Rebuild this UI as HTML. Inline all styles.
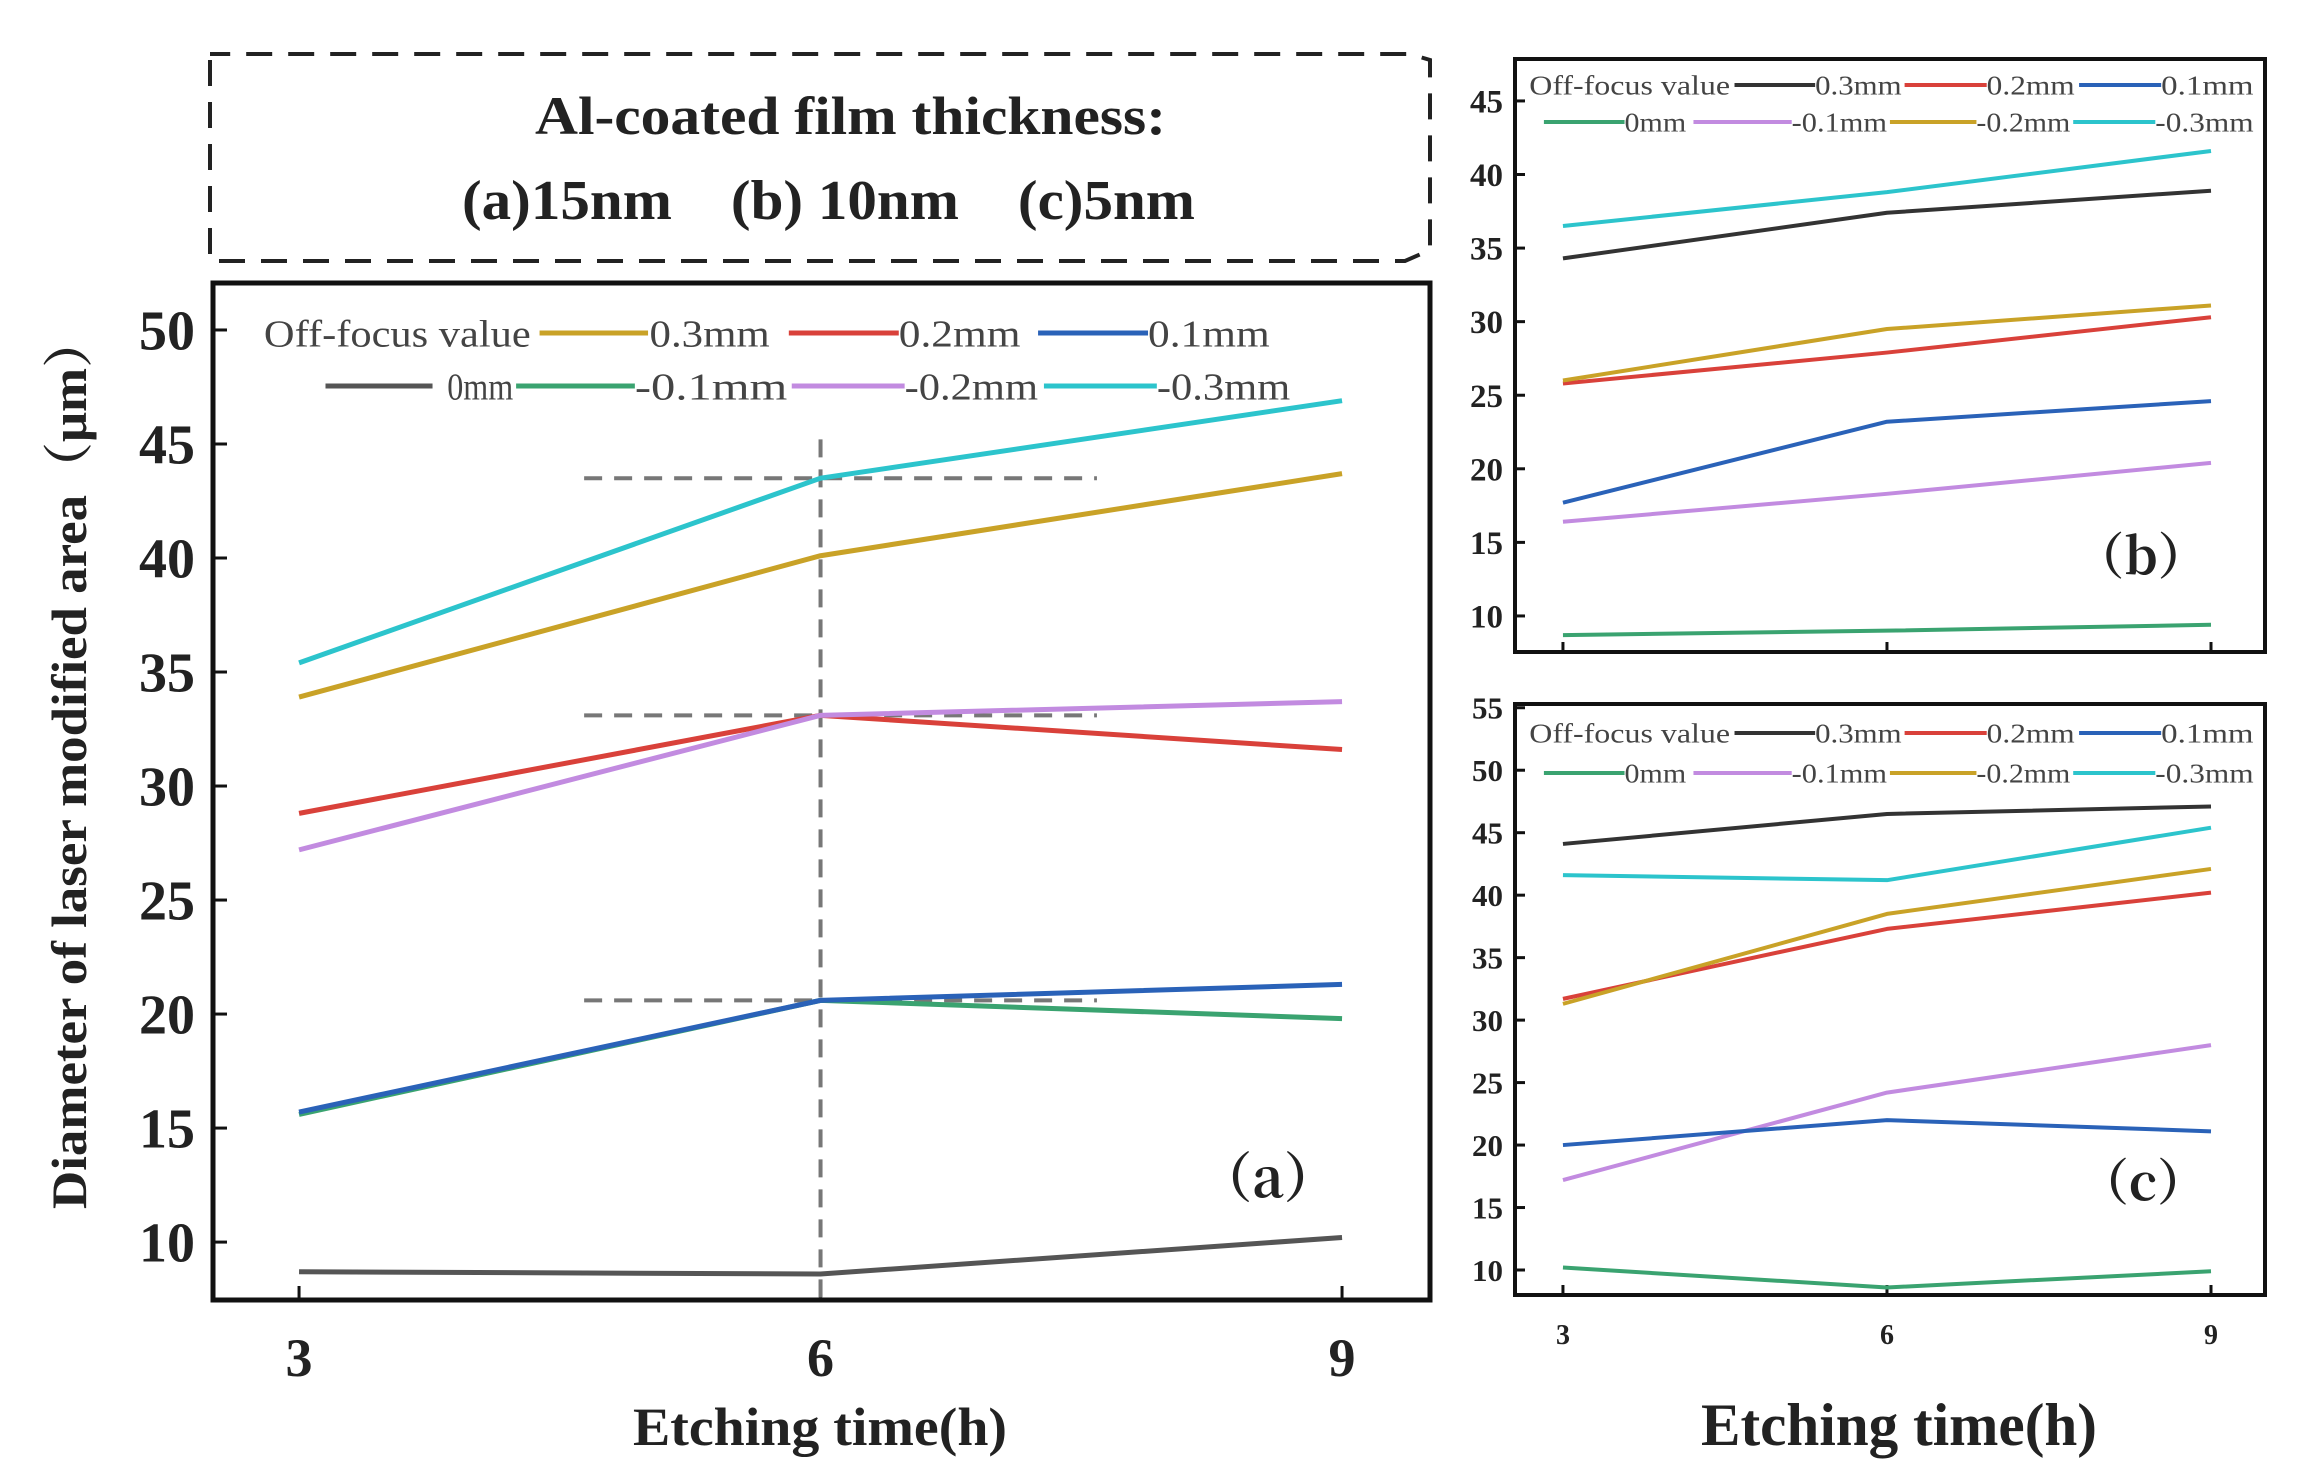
<!DOCTYPE html>
<html><head><meta charset="utf-8"><style>
html,body{margin:0;padding:0;background:#fff;}
svg{display:block;font-family:"Liberation Serif",serif;}
</style></head><body>
<svg id="fig" width="2299" height="1475" viewBox="0 0 2299 1475" xmlns="http://www.w3.org/2000/svg">
<rect x="0" y="0" width="2299" height="1475" fill="#fff"/>
<g>
<path d="M210,60 V261 H1405 L1430,250 V60 L1410,54 H210" fill="none" stroke="#222" stroke-width="4" stroke-dasharray="26,16"/>
<text x="535" y="134" textLength="631" lengthAdjust="spacingAndGlyphs" font-size="54" font-weight="bold" fill="#222">Al-coated film thickness:</text>
<text x="462" y="219" textLength="733" lengthAdjust="spacingAndGlyphs" font-size="56" font-weight="bold" fill="#222" xml:space="preserve">(a)15nm    (b) 10nm    (c)5nm</text>
</g>
<g id="gA"></g>
<g id="gB"></g>
<g id="gC"></g>
</svg>
<script>
const xCats = [3, 6, 9];
const seriesNames = ['0.3mm','0.2mm','0.1mm','0mm','-0.1mm','-0.2mm','-0.3mm'];
// Panel (a)
const aP03 = [33.9, 40.1, 43.7];
const aP02 = [28.8, 33.1, 31.6];
const aP01 = [15.7, 20.6, 21.3];
const aZero = [8.7, 8.6, 10.2];
const aM01 = [15.6, 20.6, 19.8];
const aM02 = [27.2, 33.1, 33.7];
const aM03 = [35.4, 43.5, 46.9];
const aRefLevels = [43.5, 33.1, 20.6];
const aYTicks = [10, 15, 20, 25, 30, 35, 40, 45, 50];
// Panel (b)
const bP03 = [34.3, 37.4, 38.9];
const bP02 = [25.8, 27.9, 30.3];
const bP01 = [17.7, 23.2, 24.6];
const bZero = [8.7, 9.0, 9.4];
const bM01 = [16.4, 18.3, 20.4];
const bM02 = [26.0, 29.5, 31.1];
const bM03 = [36.5, 38.8, 41.6];
const bYTicks = [10, 15, 20, 25, 30, 35, 40, 45];
// Panel (c)
const cP03 = [44.1, 46.5, 47.1];
const cP02 = [31.7, 37.3, 40.2];
const cP01 = [20.0, 22.0, 21.1];
const cZero = [10.2, 8.6, 9.9];
const cM01 = [17.2, 24.2, 28.0];
const cM02 = [31.3, 38.5, 42.1];
const cM03 = [41.6, 41.2, 45.4];
const cYTicks = [10, 15, 20, 25, 30, 35, 40, 45, 50, 55];

const NS = 'http://www.w3.org/2000/svg';
function mk(parent, tag, attrs, text) {
  const e = document.createElementNS(NS, tag);
  for (const k in attrs) e.setAttribute(k, attrs[k]);
  if (text !== undefined) e.textContent = text;
  parent.appendChild(e);
  return e;
}
const C = {gold:'#c9a227', red:'#d9413a', blue:'#2a62b8', gray:'#555', black:'#333', green:'#3aa370', purple:'#c28be0', cyan:'#2cc4cc'};
const s = 1.4662;

function panel(g, box, xr, yr, yTicks, series, opt) {
  const sx = v => box.l + (v - xr[0]) / (xr[1] - xr[0]) * (box.r - box.l);
  const sy = v => box.b - (v - yr[0]) / (yr[1] - yr[0]) * (box.b - box.t);
  yTicks.forEach(t => {
    const y = sy(t);
    const tk = mk(g, 'line', {x1: box.l, x2: box.l + opt.tick, y1: y, y2: y, stroke: '#111', 'stroke-width': 3});
    
    
    const lb = mk(g, 'text', {x: box.l - opt.tlGap, y: y + opt.yFs * 0.35, 'text-anchor': 'end', 'font-size': opt.yFs, 'font-weight': 'bold', fill: '#222'}, String(t));
    
    
  });
  xCats.forEach(t => {
    const x = sx(t);
    const tk = mk(g, 'line', {x1: x, x2: x, y1: box.b, y2: box.b - opt.tick, stroke: '#111', 'stroke-width': 3});
    
    
    if (opt.xLabels) {
      const lb = mk(g, 'text', {x: x, y: opt.xLabY, 'text-anchor': 'middle', 'font-size': opt.xFs, 'font-weight': 'bold', fill: '#222'}, String(t));
      
      
    }
  });
  if (opt.refs) opt.refs(sx, sy);
  series.forEach(sr => {
    const pts = sr.v.map((v, i) => sx(xCats[i]) + ',' + sy(v)).join(' ');
    const pl = mk(g, 'polyline', {points: pts, fill: 'none', stroke: sr.c, 'stroke-width': opt.lw, 'stroke-linejoin': 'round'});
    
    
  });
  const fr = mk(g, 'rect', {x: box.l, y: box.t, width: box.r - box.l, height: box.b - box.t, fill: 'none', stroke: '#111', 'stroke-width': opt.frameW});
  
  
  const L = opt.legend;
  const t0 = mk(g, 'text', {x: L.title[0]*s, y: L.y1 + L.fs * 0.35, 'font-size': L.fs, fill: '#444', textLength: (L.title[1]-L.title[0])*s, lengthAdjust: 'spacingAndGlyphs'}, 'Off-focus value');
  
  
  L.items.forEach(it => {
    const y = it.row === 1 ? L.y1 : L.y2;
    const ln = mk(g, 'line', {x1: it.l1, x2: it.l2, y1: y, y2: y, stroke: it.c, 'stroke-width': opt.lw});
    
    
    const tx = mk(g, 'text', {x: it.tx, y: y + L.fs * 0.35, 'font-size': L.fs, fill: '#444', textLength: it.w, lengthAdjust: 'spacingAndGlyphs'}, it.n);
    
    
  });
  const pl = mk(g, 'text', {x: opt.pl[0], y: opt.pl[1], 'text-anchor': 'middle', 'font-size': opt.pl[2], 'font-weight': 'bold', fill: '#222', 'font-family': '"Noto Serif CJK SC","Liberation Serif",serif'}, opt.pl[3]);
  
  
}
function legendItems(xs, cols) {
  return xs.map((a, i) => ({row: a[0], l1: a[1]*s, l2: a[2]*s, tx: a[3]*s, w: (a[4]-a[3])*s, n: a[5], c: cols[i]}));
}
// Panel A
const gA = document.getElementById('gA');
panel(gA, {l:213, r:1430, t:283, b:1300}, [2.505, 9.506], [7.46, 52.06], aYTicks, [
  {n:'0mm', v:aZero, c:C.gray}, {n:'m0.1', v:aM01, c:C.green}, {n:'p0.1', v:aP01, c:C.blue},
  {n:'p0.2', v:aP02, c:C.red}, {n:'m0.2', v:aM02, c:C.purple}, {n:'p0.3', v:aP03, c:C.gold}, {n:'m0.3', v:aM03, c:C.cyan}
], {tick: 14, tlGap: 18, yFs: 56, xFs: 54, xLabels: true, xLabY: 1376, lw: 5, frameW: 5,
  refs: (sx, sy) => {
    aRefLevels.forEach(v => {
      const d = mk(gA, 'line', {x1: sx(4.64), x2: sx(7.59), y1: sy(v), y2: sy(v), stroke: '#777', 'stroke-width': 4, 'stroke-dasharray': '18,12'});
      
      
    });
    const vl = mk(gA, 'line', {x1: sx(6), x2: sx(6), y1: sy(45.2), y2: 1300, stroke: '#777', 'stroke-width': 4, 'stroke-dasharray': '18,12'});
    
    
  },
  legend: {title: [180, 362], y1: 333, y2: 386, fs: 38, items: legendItems([
    [1,368,442,443,525,'0.3mm'],[1,538,613,613,696,'0.2mm'],[1,708,783,783,866,'0.1mm'],
    [2,222,295,305,350,'0mm'],[2,352,433,433,537,'-0.1mm'],[2,540,617,617,708,'-0.2mm'],[2,712,789,789,880,'-0.3mm']
  ], [C.gold, C.red, C.blue, C.gray, C.green, C.purple, C.cyan])},
  pl: [1268, 1197, 54, '（a）']});
// Panel B
const gB = document.getElementById('gB');
const lwSmall = legendItems([
  [1,1183,1238,1238,1297,'0.3mm'],[1,1299,1355,1355,1415,'0.2mm'],[1,1418,1474,1474,1537,'0.1mm'],
  [2,1053,1108,1108,1150,'0mm'],[2,1155,1222,1222,1287,'-0.1mm'],[2,1289,1348,1348,1412,'-0.2mm'],[2,1414,1470,1470,1537,'-0.3mm']
], [C.black, C.red, C.blue, C.green, C.purple, C.gold, C.cyan]);
panel(gB, {l:1515, r:2265, t:59, b:652}, [2.556, 9.5], [7.55, 47.85], bYTicks, [
  {n:'0mm', v:bZero, c:C.green}, {n:'m0.1', v:bM01, c:C.purple}, {n:'p0.1', v:bP01, c:C.blue},
  {n:'p0.2', v:bP02, c:C.red}, {n:'m0.2', v:bM02, c:C.gold}, {n:'p0.3', v:bP03, c:C.black}, {n:'m0.3', v:bM03, c:C.cyan}
], {tick: 10, tlGap: 12, yFs: 33, xFs: 26, xLabels: false, lw: 4, frameW: 4,
  legend: {title: [1043, 1180], y1: 85, y2: 122, fs: 27, items: lwSmall}, pl: [2141, 574, 50, '（b）']});
// Panel C
const gC = document.getElementById('gC');
panel(gC, {l:1515, r:2265, t:704, b:1295}, [2.556, 9.5], [8.0, 55.3], cYTicks, [
  {n:'0mm', v:cZero, c:C.green}, {n:'m0.1', v:cM01, c:C.purple}, {n:'p0.1', v:cP01, c:C.blue},
  {n:'p0.2', v:cP02, c:C.red}, {n:'m0.2', v:cM02, c:C.gold}, {n:'p0.3', v:cP03, c:C.black}, {n:'m0.3', v:cM03, c:C.cyan}
], {tick: 10, tlGap: 12, yFs: 31, xFs: 28, xLabels: true, xLabY: 1344, lw: 4, frameW: 4,
  legend: {title: [1043, 1180], y1: 733, y2: 773, fs: 27, items: lwSmall}, pl: [2143, 1200, 50, '（c）']});

const svg = document.getElementById('fig');
const ya = mk(svg, 'text', {x: 0, y: 0, transform: 'translate(86,762) rotate(-90)', 'text-anchor': 'middle', 'font-size': 50, 'font-weight': 'bold', fill: '#222', textLength: 894, lengthAdjust: 'spacingAndGlyphs', 'font-family': '"Liberation Serif","Noto Serif CJK SC",serif'}, 'Diameter of laser modified area（μm）');


const xa = mk(svg, 'text', {x: 633, y: 1445, textLength: 374, lengthAdjust: 'spacingAndGlyphs', 'font-size': 54, 'font-weight': 'bold', fill: '#222'}, 'Etching time(h)');


const xc = mk(svg, 'text', {x: 1701, y: 1445, textLength: 396, lengthAdjust: 'spacingAndGlyphs', 'font-size': 60, 'font-weight': 'bold', fill: '#222'}, 'Etching time(h)');


</script>
</body></html>
